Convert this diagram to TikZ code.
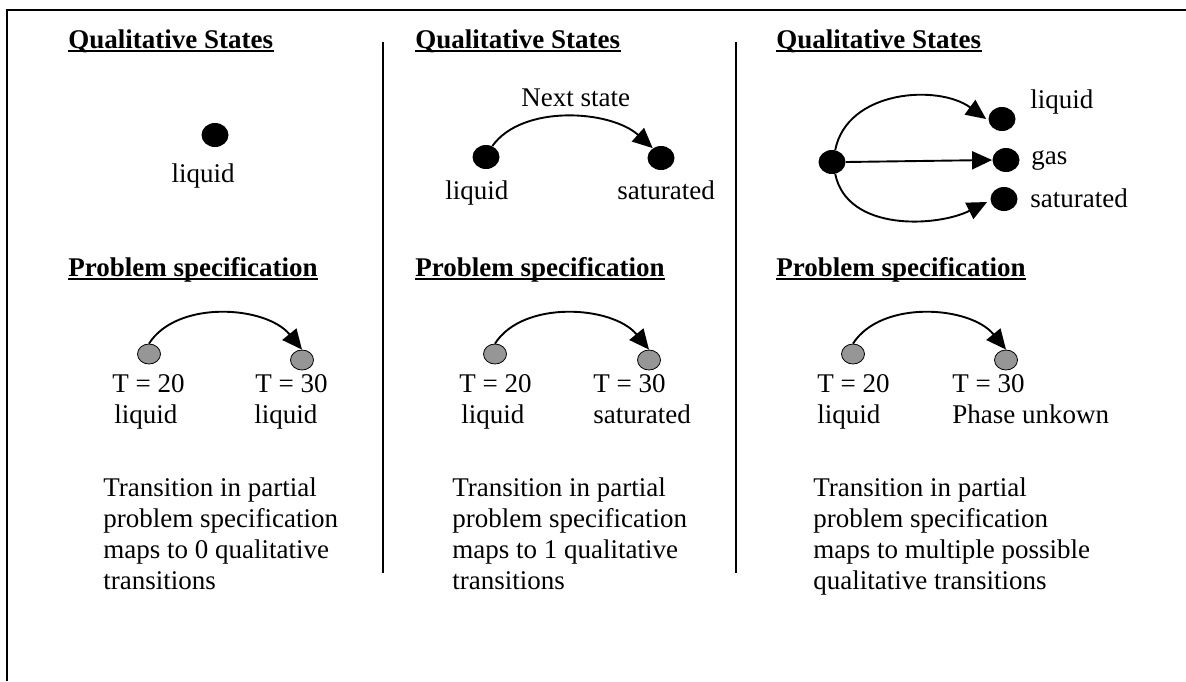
\documentclass[tikz,border=0pt]{standalone}
\usepackage{fontspec}
\setmainfont{Liberation Serif}
\usetikzlibrary{shapes.geometric,arrows.meta}
\definecolor{dotgray}{RGB}{150,150,150}
\begin{document}
\begin{tikzpicture}[x=0.5pt,y=-0.5pt,
  txt/.style={inner sep=0pt, font=\fontsize{13.5}{15.5}\selectfont},
  ttl/.style={inner sep=0pt, font=\fontsize{13.5}{15.5}\selectfont\bfseries},
  bodytxt/.style={txt, anchor=north west, align=left},
  qdot/.style={ellipse, fill=black, inner sep=0pt, minimum width=13.5pt, minimum height=12pt},
  pdot/.style={ellipse, draw=black, line width=0.4pt, fill=dotgray, inner sep=0pt, minimum width=11.5pt, minimum height=10pt},
  arr/.style={line width=0.95pt, -{Triangle[length=10pt,width=9pt]}},
  uline/.style={line width=1.1pt},
  frameline/.style={line width=1.4pt},
  divline/.style={line width=0.9pt}]
\useasboundingbox (0,0) rectangle (1186,681);
% frame
\coordinate (fl) at (7,681);
\coordinate (ftl) at (7,10);
\coordinate (ftr) at (1186,10);
\draw[frameline] (fl) -- (ftl) -- (ftr);
% dividers
\coordinate (d1t) at (383,42);
\coordinate (d1b) at (383,573);
\coordinate (d2t) at (736,42);
\coordinate (d2b) at (736,573);
\draw[divline] (d1t) -- (d1b);
\draw[divline] (d2t) -- (d2b);

% ---------- titles ----------
\node[ttl, anchor=base west] (q1t) at (68,48) {Qualitative States};
\node[ttl, anchor=base west] (q2t) at (415,48) {Qualitative States};
\node[ttl, anchor=base west] (q3t) at (776,48) {Qualitative States};
\node[ttl, anchor=base west] (p1t) at (68,276) {Problem specification};
\node[ttl, anchor=base west] (p2t) at (415,276) {Problem specification};
\node[ttl, anchor=base west] (p3t) at (776,276) {Problem specification};
\foreach \t in {q1t,q2t,q3t,p1t,p2t,p3t}{
  \draw[uline] ([yshift=-1.6pt]\t.base west) -- ([yshift=-1.6pt]\t.base east);
}

% ---------- column 1 ----------
\node[qdot] (q1) at (215,135) {};
\node[txt, anchor=base] (q1l) at (203,182) {liquid};

\node[pdot] (p1a) at (149,354) {};
\node[pdot] (p1b) at (302,360) {};
\draw[arr] (p1a.north) .. controls +(28,-44) and +(-36,-44) .. (p1b.north);
\node[txt, anchor=base west] (p1a1) at (112,392) {T = 20};
\node[txt, anchor=base west] (p1a2) at (114,423) {liquid};
\node[txt, anchor=base west] (p1b1) at (255,392) {T = 30};
\node[txt, anchor=base west] (p1b2) at (254,423) {liquid};
\node[bodytxt] (b1) at (103,477) {Transition in partial\\problem specification\\maps to 0 qualitative\\transitions};

% ---------- column 2 ----------
\node[qdot] (q2a) at (486,157) {};
\node[qdot] (q2b) at (661,158) {};
\draw[arr] (q2a.60) .. controls +(30,-42) and +(-42,-38) .. (q2b.130);
\node[txt, anchor=base west] (q2n) at (521,106) {Next state};
\node[txt, anchor=base west] (q2al) at (445,199) {liquid};
\node[txt, anchor=base west] (q2bl) at (617,199) {saturated};

\node[pdot] (p2a) at (495,354) {};
\node[pdot] (p2b) at (649,360) {};
\draw[arr] (p2a.north) .. controls +(28,-44) and +(-36,-44) .. (p2b.north);
\node[txt, anchor=base west] (p2a1) at (459,392) {T = 20};
\node[txt, anchor=base west] (p2a2) at (461,423) {liquid};
\node[txt, anchor=base west] (p2b1) at (593,392) {T = 30};
\node[txt, anchor=base west] (p2b2) at (593,423) {saturated};
\node[bodytxt] (b2) at (452,477) {Transition in partial\\problem specification\\maps to 1 qualitative\\transitions};

% ---------- column 3 ----------
\node[qdot] (q3s) at (832,162) {};
\node[qdot] (q3l) at (1002,119) {};
\node[qdot] (q3g) at (1006,160) {};
\node[qdot] (q3st) at (1004,199) {};
\draw[arr] (q3s.75) .. controls +(12,-60) and +(-48,-35) .. ([xshift=-1pt]q3l.west);
\draw[arr] (q3s.east) -- (q3g.west);
\draw[arr] (q3s.-75) .. controls +(12,58) and +(-50,25) .. ([shift={(-1.5pt,-1.5pt)}]q3st.west);
\node[txt, anchor=base west] (q3ll) at (1030,108) {liquid};
\node[txt, anchor=base west] (q3gl) at (1031,164) {gas};
\node[txt, anchor=base west] (q3stl) at (1030,207) {saturated};

\node[pdot] (p3a) at (853,354) {};
\node[pdot] (p3b) at (1006,360) {};
\draw[arr] (p3a.north) .. controls +(28,-44) and +(-36,-44) .. (p3b.north);
\node[txt, anchor=base west] (p3a1) at (817,392) {T = 20};
\node[txt, anchor=base west] (p3a2) at (817,423) {liquid};
\node[txt, anchor=base west] (p3b1) at (952,392) {T = 30};
\node[txt, anchor=base west] (p3b2) at (952,423) {Phase unkown};
\node[bodytxt] (b3) at (813,477) {Transition in partial\\problem specification\\maps to multiple possible\\qualitative transitions};
\end{tikzpicture}
\end{document}
